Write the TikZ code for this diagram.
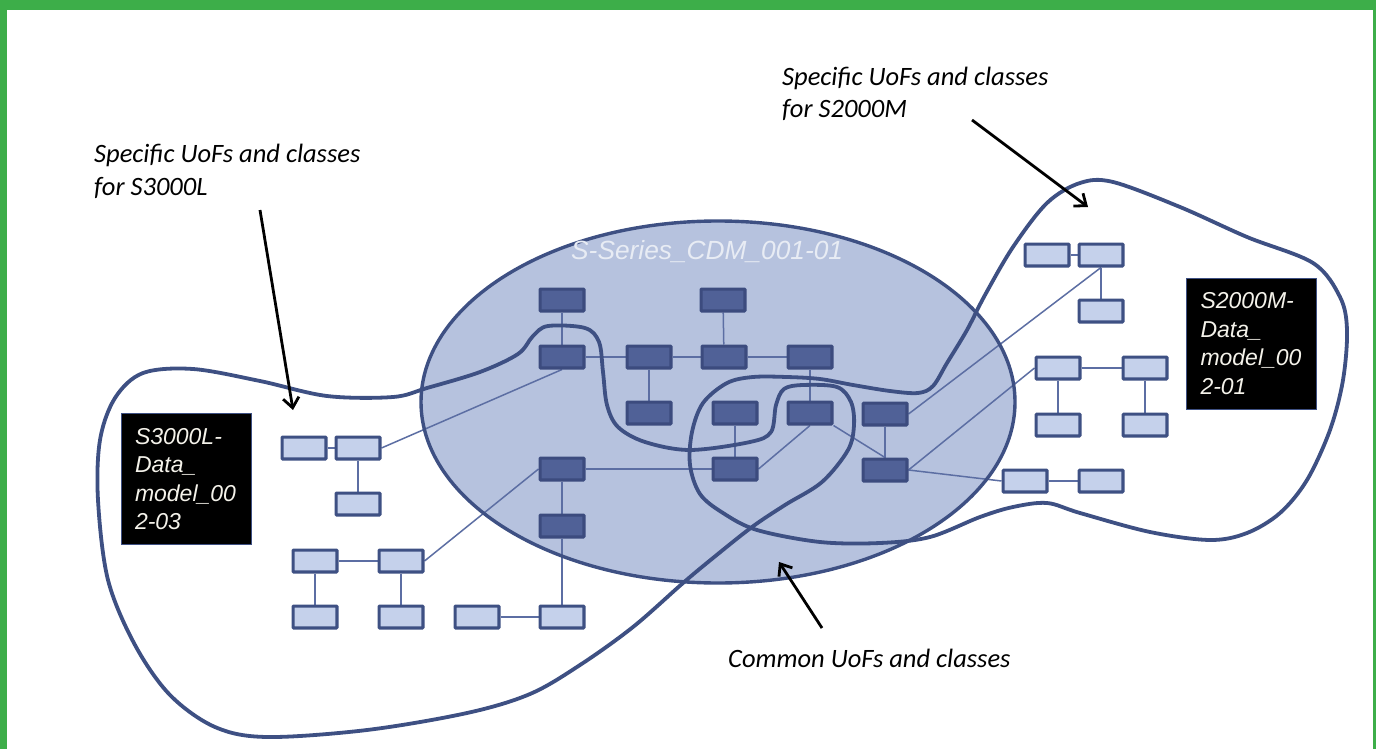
\documentclass[tikz,border=0pt]{standalone}
\usepackage{fontspec}
\setmainfont{Liberation Sans}
\newfontfamily\annfont{Carlito}
\usetikzlibrary{arrows.meta}
\definecolor{greenb}{HTML}{3DAE49}
\definecolor{ellfill}{HTML}{B6C2DE}
\definecolor{navy}{HTML}{3E5083}
\definecolor{dfill}{HTML}{506197}
\definecolor{dborder}{HTML}{3C4B7E}
\definecolor{lfill}{HTML}{C5D1EB}
\definecolor{connc}{HTML}{5C6EA3}
\definecolor{titlec}{HTML}{E8ECF4}
\definecolor{bbtext}{HTML}{F4F2EA}
\pgfdeclarelayer{backl}
\pgfdeclarelayer{midl}
\pgfsetlayers{backl,midl,main}
\begin{document}
\begin{tikzpicture}[x=1pt,y=-1pt,
  dbox/.style={draw=dborder, fill=dfill, line width=3.2pt, minimum width=43.8pt, minimum height=21.8pt, inner sep=0pt, rounded corners=0.8pt},
  lbox/.style={draw=navy, fill=lfill, line width=3.2pt, minimum width=43.8pt, minimum height=21.8pt, inner sep=0pt, rounded corners=0.8pt},
  connl/.style={draw=connc, line width=1.5pt},
  blob/.style={draw=navy, line width=3.8pt},
  annot/.style={font=\annfont\itshape\fontsize{26.5}{32.5}\selectfont, align=left, anchor=base west, inner sep=0pt},
  arr/.style={line width=2.8pt, -{Straight Barb[length=10pt,width=16pt]}},
  blackbox/.style={fill=black, draw=navy, line width=1pt, text=bbtext, font=\itshape\fontsize{23}{28.5}\selectfont, align=left, text width=102pt, inner xsep=14pt, inner ysep=0pt, minimum height=131pt, anchor=center}]
\useasboundingbox (0,0) rectangle (1376,749);
\begin{pgfonlayer}{backl}
\fill[greenb] (0,0) rectangle (1376,749);
\fill[white] (7,10) rectangle (1373,749);
\fill[ellfill] (718,402) ellipse [x radius=297, y radius=181];
\end{pgfonlayer}
\begin{pgfonlayer}{midl}
\draw[navy, line width=3.4pt] (718,402) ellipse [x radius=297, y radius=181];
\end{pgfonlayer}

% title of common model
\node[anchor=base west, inner sep=0pt, text=titlec, font=\itshape\fontsize{26.3}{30}\selectfont] (title) at (571,259) {S-Series\_CDM\_001-01};

% boxes
\node[dbox] (d1) at (562,300) {};
\node[dbox] (d2) at (723,300) {};
\node[dbox] (d3) at (562,357) {};
\node[dbox] (d4) at (649,357) {};
\node[dbox] (d5) at (724,357) {};
\node[dbox] (d6) at (810,357) {};
\node[dbox] (d7) at (649,413) {};
\node[dbox] (d8) at (735,413) {};
\node[dbox] (d9) at (810,413) {};
\node[dbox] (d10) at (885,414) {};
\node[dbox] (d11) at (562,469) {};
\node[dbox] (d12) at (735,469) {};
\node[dbox] (d13) at (885,470) {};
\node[dbox] (d14) at (562,526) {};
\node[lbox] (l1) at (477,617) {};
\node[lbox] (l2) at (562,617) {};
\node[lbox] (a1) at (304,448) {};
\node[lbox] (a2) at (358,448) {};
\node[lbox] (a3) at (358,504) {};
\node[lbox] (a4) at (315,561) {};
\node[lbox] (a5) at (401,561) {};
\node[lbox] (a6) at (315,617) {};
\node[lbox] (a7) at (401,617) {};
\node[lbox] (b1) at (1047,255) {};
\node[lbox] (b2) at (1101,255) {};
\node[lbox] (b3) at (1101,311) {};
\node[lbox] (b4) at (1058,368) {};
\node[lbox] (b5) at (1145,368) {};
\node[lbox] (b6) at (1058,425) {};
\node[lbox] (b7) at (1145,425) {};
\node[lbox] (b8) at (1025,481) {};
\node[lbox] (b9) at (1101,481) {};

% connectors (behind boxes)
\begin{pgfonlayer}{backl}
\draw[connl] (d1) -- (d3);
\draw[connl] (d2) -- (d5);
\draw[connl] (d3) -- (d4);
\draw[connl] (d4) -- (d5);
\draw[connl] (d5) -- (d6);
\draw[connl] (d4) -- (d7);
\draw[connl] (d6) -- (d9);
\draw[connl] (d8) -- (d12);
\draw[connl] (d9.south) -- (d12.east);
\draw[connl] (d9.south east) -- (d13.north);
\draw[connl] (d10) -- (d13);
\draw[connl] (d11) -- (d12);
\draw[connl] (d11) -- (d14);
\draw[connl] (d14) -- (l2);
\draw[connl] (l1) -- (l2);
\draw[connl] (d13.east) -- (b8.west);
\draw[connl] (b8) -- (b9);
\draw[connl] (d10.east) -- (b2.south);
\draw[connl] (d13.east) -- (b4.west);
\draw[connl] (b1) -- (b2);
\draw[connl] (b2) -- (b3);
\draw[connl] (b4) -- (b5);
\draw[connl] (b4) -- (b6);
\draw[connl] (b5) -- (b7);
\draw[connl] (a1) -- (a2);
\draw[connl] (a2) -- (a3);
\draw[connl] (a2.east) -- (d3.south);
\draw[connl] (a4) -- (a5);
\draw[connl] (a4) -- (a6);
\draw[connl] (a5) -- (a7);
\draw[connl] (a5.east) -- (d11.west);
\end{pgfonlayer}

% S3000L region
\draw[blob] plot[smooth cycle, tension=0.55] coordinates {
 (143,373) (193,369) (260,381) (327,396) (393,397) (427,388) (480,372) (518,354)
 (533,336) (548,326) (585,328) (599,342) (603,372) (607,405) (618,427) (645,442)
 (690,450) (750,442) (771,432) (776,405) (784,389) (803,385) (837,387) (851,402)
 (854,425) (848,450) (822,482) (785,505) (752,527) (713,558) (683,583) (633,627)
 (580,665) (530,694) (467,713) (367,730) (267,737) (215,727) (170,695) (135,645)
 (108,580) (98,500) (100,440) (115,398)};

% S2000M region
\draw[blob] plot[smooth cycle, tension=0.55] coordinates {
 (1080,183) (1113,182) (1180,207) (1247,237) (1313,263) (1340,297) (1347,330)
 (1343,380) (1330,430) (1307,480) (1280,513) (1247,533) (1210,540) (1150,532)
 (1080,513) (1047,503) (1013,507) (980,517) (930,537) (880,543) (820,542)
 (757,530) (723,513) (700,494) (690,465) (692,432) (703,403) (727,383) (753,377)
 (787,377) (820,379) (853,385) (890,391) (918,393) (933,386) (947,363) (967,330)
 (985,295) (1013,247) (1047,203)};

% black labels
\node[blackbox] (s3000l) at (186,479) {S3000L-\\Data\_\\model\_00\\2-03};
\node[blackbox] (s2000m) at (1251.5,343.5) {S2000M-\\Data\_\\model\_00\\2-01};

% annotations
\node[annot] (t1) at (94,195) {Specific UoFs and classes\\for S3000L};
\node[annot] (t2) at (782,118) {Specific UoFs and classes\\for S2000M};
\node[annot] (t3) at (728,667) {Common UoFs and classes};

\coordinate (e1s) at (260,210);
\coordinate (e1e) at (293,410);
\coordinate (e2s) at (972,120);
\coordinate (e2e) at (1088,207);
\coordinate (e3s) at (822,628);
\coordinate (e3e) at (779,562);
\draw[arr] (e1s) -- (e1e);
\draw[arr] (e2s) -- (e2e);
\draw[arr] (e3s) -- (e3e);
\end{tikzpicture}
\end{document}
